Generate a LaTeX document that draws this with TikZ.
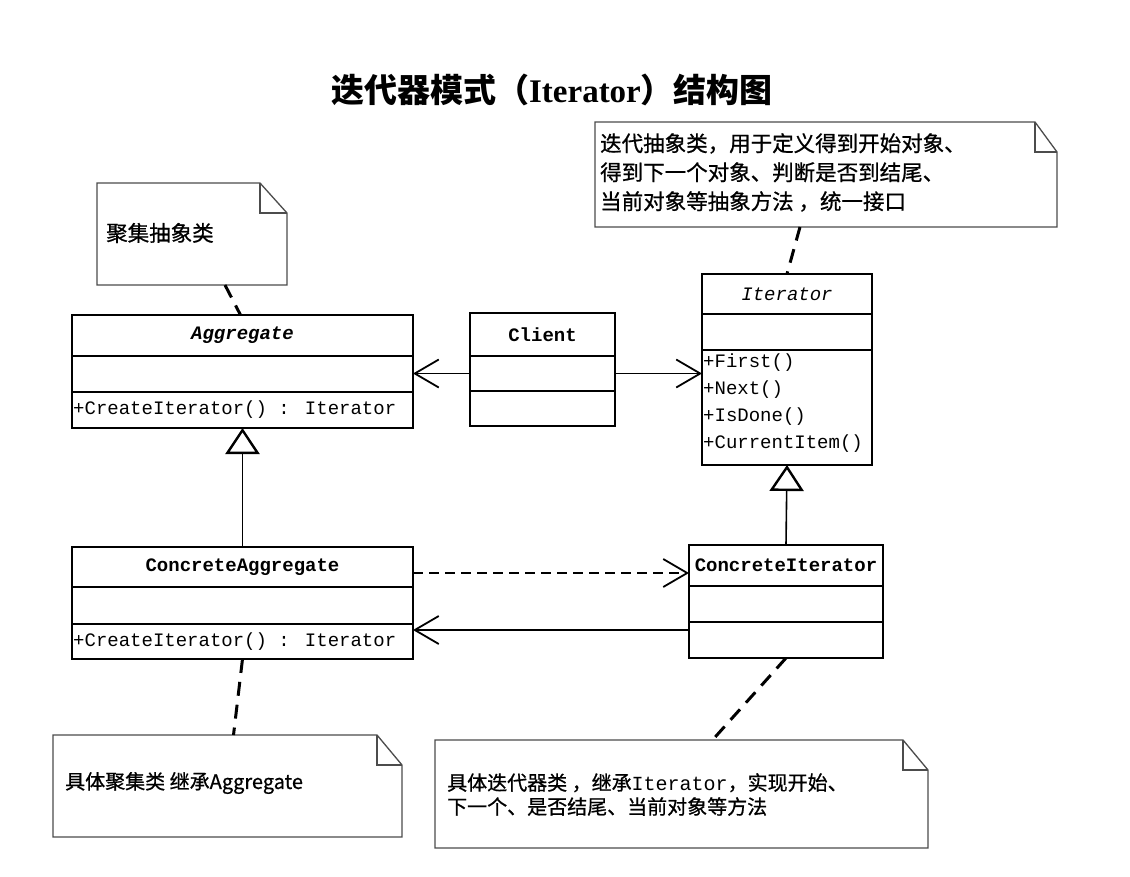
\documentclass[tikz,border=0pt]{standalone}
\usepackage{fontspec}
\newfontfamily\cjk{Noto Sans CJK SC}
\newfontfamily\cjkn[FakeBold=0.8]{Noto Sans CJK SC}
\newfontfamily\mono{Liberation Mono}
\newfontfamily\tserif{Liberation Serif}
\usetikzlibrary{arrows.meta,calc}
\newcommand\drawnote[3]{%
  \draw[notebd] (#1.north west) -- ([xshift=-#2pt]#1.north east) -- ([yshift=-#3pt]#1.north east) -- (#1.south east) -- (#1.south west) -- cycle;
  \draw[notebd] ([xshift=-#2pt]#1.north east) |- ([yshift=-#3pt]#1.north east);}
\begin{document}
\begin{tikzpicture}[x=1pt,y=-1pt,
  box/.style={draw, line width=2.6pt, inner sep=0pt, outer sep=0pt, anchor=north west},
  cname/.style={font=\mono\fontsize{19}{22}\selectfont\bfseries},
  cnamei/.style={font=\mono\fontsize{19}{22}\selectfont\bfseries\itshape},
  cnameit/.style={font=\mono\fontsize{19}{22}\selectfont\itshape},
  optext/.style={font=\mono\fontsize{19}{27}\selectfont, inner sep=1pt, align=left},
  notenode/.style={inner sep=0pt, outer sep=0pt, anchor=north west},
  notebd/.style={draw=black!70, line width=1.3pt, line join=miter},
  ntext/.style={inner sep=0pt, align=left},
  assoc/.style={line width=1.6pt, -{Straight Barb[length=24pt,width=28pt,line width=1.8pt]}},
  dep/.style={assoc, dash pattern=on 10pt off 6pt},
  gen/.style={line width=1.6pt, -{Triangle[open, length=26pt, width=34pt, line width=2.4pt]}},
  notelink/.style={line width=3pt, dash pattern=on 14pt off 9pt}]
\fill[white] (0,0) rectangle (1130,876);
\useasboundingbox (0,0) rectangle (1130,876);

% title
\node[inner sep=0pt] (title) at (552,90) {{\cjk\bfseries\fontsize{33}{36}\selectfont 迭代器模式（}{\tserif\bfseries\fontsize{33}{36}\selectfont Iterator}{\cjk\bfseries\fontsize{33}{36}\selectfont ）结构图}};

% Aggregate
\node[box, minimum width=341pt, minimum height=41pt, cnamei] (aggH) at (72,315) {Aggregate};
\node[box, minimum width=341pt, minimum height=36pt] (aggA) at (72,356) {};
\node[box, minimum width=341pt, minimum height=36pt] (aggO) at (72,392) {};
\node[optext, anchor=west] (aggOt) at (aggO.west) {+CreateIterator() : Iterator};

% Client
\node[box, minimum width=145pt, minimum height=43pt, cname] (cliH) at (470,313) {Client};
\node[box, minimum width=145pt, minimum height=35pt] (cliA) at (470,356) {};
\node[box, minimum width=145pt, minimum height=35pt] (cliO) at (470,391) {};

% Iterator
\node[box, minimum width=170pt, minimum height=40pt, cnameit] (itH) at (702,274) {Iterator};
\node[box, minimum width=170pt, minimum height=36pt] (itA) at (702,314) {};
\node[box, minimum width=170pt, minimum height=115pt] (itO) at (702,350) {};
\node[optext, anchor=north west] (itOt) at (702,353) {+First()\\+Next()\\+IsDone()\\+CurrentItem()};

% ConcreteAggregate
\node[box, minimum width=341pt, minimum height=40pt, cname] (caggH) at (72,547) {ConcreteAggregate};
\node[box, minimum width=341pt, minimum height=37pt] (caggA) at (72,587) {};
\node[box, minimum width=341pt, minimum height=35pt] (caggO) at (72,624) {};
\node[optext, anchor=west] (caggOt) at (caggO.west) {+CreateIterator() : Iterator};

% ConcreteIterator
\node[box, minimum width=194pt, minimum height=41pt, cname] (ciH) at (689,545) {ConcreteIterator};
\node[box, minimum width=194pt, minimum height=36pt] (ciA) at (689,586) {};
\node[box, minimum width=194pt, minimum height=36pt] (ciO) at (689,622) {};

% connectors between classes
\draw[assoc] (cliA.west) -- (cliA.west -| aggA.east);
\draw[assoc] (cliA.east) -- (cliA.east -| itO.west);
\draw[gen] (caggH.north) -- (aggO.south);
\draw[gen] (ciH.north) -- (itO.south);
\draw[dep] ([yshift=-6pt]caggH.east) -- ([yshift=-6pt]caggH.east -| ciH.west);
\draw[assoc] ([yshift=-8pt]ciA.south west) -- ([yshift=-8pt]ciA.south west -| caggO.east);

% notes
\node[notenode, minimum width=190pt, minimum height=102pt] (n1) at (97,183) {};
\drawnote{n1}{27}{30}
\node[ntext, anchor=west, font=\cjkn\fontsize{21.5}{29}\selectfont] (n1t) at (106,233) {聚集抽象类};

\node[notenode, minimum width=462pt, minimum height=105pt] (n2) at (595,122) {};
\drawnote{n2}{22}{30}
\node[ntext, anchor=north west, font=\cjkn\fontsize{21.5}{29}\selectfont] (n2t) at (600,133) {迭代抽象类，用于定义得到开始对象、\\得到下一个对象、判断是否到结尾、\\当前对象等抽象方法 ，统一接口};

\node[notenode, minimum width=349pt, minimum height=102pt] (n3) at (53,735) {};
\drawnote{n3}{25}{30}
\node[ntext, anchor=west, font=\cjkn\fontsize{20}{26}\selectfont] (n3t) at (65,783) {具体聚集类 继承Aggregate};

\node[notenode, minimum width=493pt, minimum height=108pt] (n4) at (435,740) {};
\drawnote{n4}{25}{30}
\node[ntext, anchor=north west, font=\cjkn\fontsize{20}{24}\selectfont] (n4t) at (447,773) {具体迭代器类 ，继承{\mono Iterator}，实现开始、\\下一个、是否结尾、当前对象等方法};

% note links
\draw[notelink] ([xshift=33pt]n1.south) -- ([xshift=-2pt]aggH.north);
\draw[notelink] ([xshift=-26pt]n2.south) -- (itH.north);
\draw[notelink] (caggO.south) -- ([xshift=6pt]n3.north);
\draw[notelink] (ciO.south) -- ([xshift=31pt]n4.north);
\end{tikzpicture}
\end{document}
